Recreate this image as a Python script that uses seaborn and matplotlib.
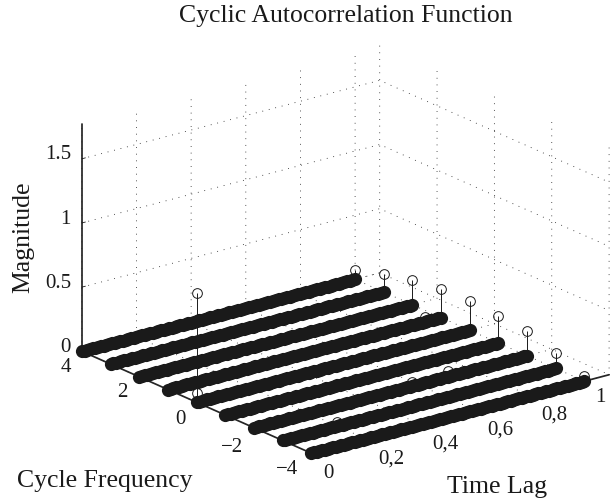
import matplotlib
matplotlib.use("Agg")
import matplotlib.pyplot as plt
import seaborn as sns

# lag samples along every cycle frequency row
time_lag = [0.00, 0.01, 0.02, 0.03, 0.04, 0.05, 0.06, 0.07, 0.08, 0.09, 0.10, 0.11,
            0.12, 0.13, 0.14, 0.15, 0.16, 0.17, 0.18, 0.19, 0.20, 0.21, 0.22, 0.23,
            0.24, 0.25, 0.26, 0.27, 0.28, 0.29, 0.30, 0.31, 0.32, 0.33, 0.34, 0.35,
            0.36, 0.37, 0.38, 0.39, 0.40, 0.41, 0.42, 0.43, 0.44, 0.45, 0.46, 0.47,
            0.48, 0.49, 0.50, 0.51, 0.52, 0.53, 0.54, 0.55, 0.56, 0.57, 0.58, 0.59,
            0.60, 0.61, 0.62, 0.63, 0.64, 0.65, 0.66, 0.67, 0.68, 0.69, 0.70, 0.71,
            0.72, 0.73, 0.74, 0.75, 0.76, 0.77, 0.78, 0.79, 0.80, 0.81, 0.82, 0.83,
            0.84, 0.85, 0.86, 0.87, 0.88, 0.89, 0.90, 0.91, 0.92, 0.93, 0.94, 0.95,
            0.96, 0.97, 0.98, 0.99, 1.00]
cycle_freq = [4, 3, 2, 1, 0, -1, -2, -3, -4]

# magnitudes that stand out of the flat rows
end_lag = [1.0, 1.0, 1.0, 1.0, 1.0, 1.0, 1.0, 1.0, 1.0]
end_mag = [0.07, 0.14, 0.19, 0.22, 0.23, 0.21, 0.19, 0.12, 0.04]
peak_lag = [0.0, 0.0, 0.94, 0.71, 0.58, 0.20]
peak_freq = [0, 0, 1, -2, -2, -3]
peak_mag = [0.85, 0.07, 0.04, 0.04, 0.03, 0.03]

x_ticks = [0, 0.2, 0.4, 0.6, 0.8, 1]
x_labels = ["0", "0,2", "0,4", "0,6", "0,8", "1"]
y_ticks = [-4, -2, 0, 2, 4]
y_labels = ["\u22124", "\u22122", "0", "2", "4"]
z_ticks = [0, 0.5, 1, 1.5]
z_labels = ["0", "0.5", "1", "1.5"]

# mplot3d has no per label pad, so tick labels are placed by pixel
x_label_px = [(328, 473), (391, 459), (445, 444), (500, 430), (554, 415), (600, 398)]
y_label_px = [(287, 470), (232, 448), (180, 420), (122, 393), (66, 367)]
z_label_px = [(71, 347), (71, 283), (71, 219), (71, 155)]

sns.set_theme(style="white", rc={"text.color": "k", "xtick.color": "k", "ytick.color": "k"})
plt.rcParams["font.family"] = ["Liberation Serif", "DejaVu Serif"]

W, H = 610, 502
fig = plt.figure(figsize=(W / 100, H / 100), dpi=100)
side = 567
left, bottom = 54.3, 541.6
ax = fig.add_axes([left / W, 1 - bottom / H, side / W, side / H],
                  projection="3d", computed_zorder=False)
ax.set_proj_type("ortho")
ax.view_init(elev=20, azim=-127.6)
ax.set_box_aspect((1, 1, 0.643))
ax.patch.set_alpha(0)


def open_stem(lags, freqs, mags):
    m, s, b = ax.stem(lags, freqs, mags, linefmt="k-", markerfmt="ko", basefmt=" ")
    m.set_markerfacecolor("none")
    m.set_markersize(7)
    m.set_markeredgewidth(0.7)
    s.set_linewidth(0.7)
    m.set_zorder(2)
    s.set_zorder(2)


def px_text(x, y, s, **kw):
    fig.text(x / W, 1 - y / H, s, va="center", **kw)


# stems go under the rows
open_stem(end_lag, cycle_freq, end_mag)
open_stem(peak_lag, peak_freq, peak_mag)

# rows are packed so tight they read as solid bars
for f in cycle_freq:
    ax.plot(time_lag, [f] * len(time_lag), [0] * len(time_lag), "o", color="k",
            markersize=9.5, markeredgewidth=0, zorder=3)

ax.set_xlim(0, 1.09)
ax.set_ylim(-4, 4)
ax.set_zlim(0, 1.77)
ax.set_xticks(x_ticks)
ax.set_xticklabels([])
ax.set_yticks(y_ticks)
ax.set_yticklabels([])
ax.set_zticks(z_ticks)
ax.set_zticklabels([])

for axis in (ax.xaxis, ax.yaxis, ax.zaxis):
    axis.set_pane_color((1, 1, 1, 0))
    axis.pane.set_edgecolor((1, 1, 1, 0))
    axis._axinfo["grid"].update(color="k", linestyle=(0, (1, 7)), linewidth=0.6)
    axis._axinfo["axisline"].update(color="k", linewidth=0.8)
    axis._axinfo["tick"].update(color="k", linewidth={True: 0.6, False: 0.6},
                                inward_factor=0, outward_factor=0.15)
ax.grid(True)

for label, (x, y) in zip(x_labels, x_label_px):
    px_text(x, y, label, ha="center", fontsize=15)
for label, (x, y) in zip(y_labels, y_label_px):
    px_text(x, y, label, ha="center", fontsize=15)
for label, (x, y) in zip(z_labels, z_label_px):
    px_text(x, y, label, ha="right", fontsize=15)

px_text(346, 16, "Cyclic Autocorrelation Function", ha="center", fontsize=18.5)
px_text(105, 481, "Cycle Frequency", ha="center", fontsize=18.5)
px_text(497, 487, "Time Lag", ha="center", fontsize=18.5)
px_text(23, 237, "Magnitude", ha="center", rotation=90, fontsize=18.5)

fig.savefig("out.png", dpi=100)
